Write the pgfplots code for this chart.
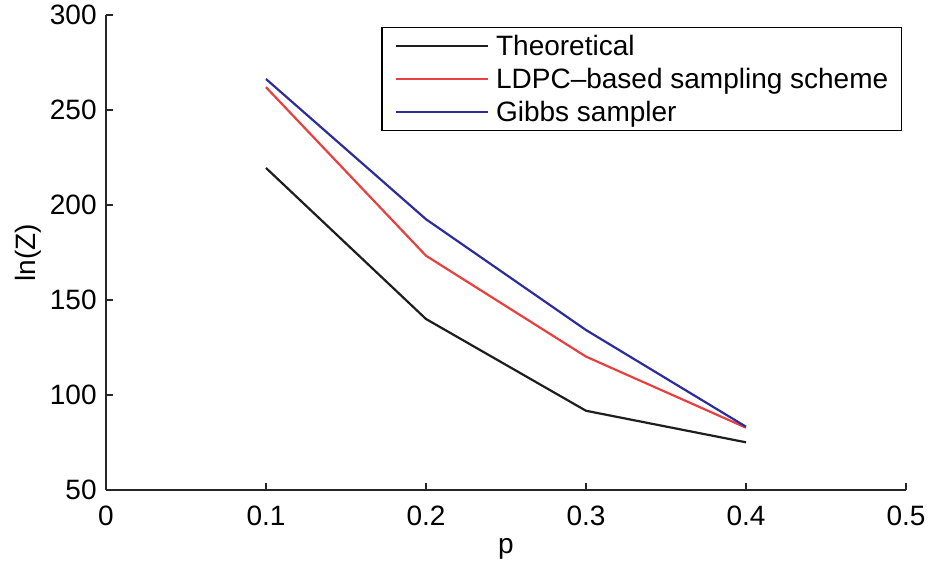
\documentclass[border=0pt]{standalone}
\usepackage{pgfplots}
\pgfplotsset{compat=1.18}
\usepackage{fontspec}
\setmainfont{Liberation Sans}
\definecolor{cred}{RGB}{232,64,64}
\definecolor{cblue}{RGB}{44,44,156}
\definecolor{cblack}{RGB}{30,30,30}
\begin{document}
\begin{tikzpicture}
\begin{axis}[
  name=ax,
  scale only axis,
  width=400pt, height=237.5pt,
  xmin=0, xmax=0.5, ymin=50, ymax=300,
  axis lines*=left,
  axis line style={line width=0.8pt, draw=black!85},
  xtick={0,0.1,0.2,0.3,0.4,0.5},
  ytick={50,100,150,200,250,300},
  xticklabels={0,0.1,0.2,0.3,0.4,0.5},
  tick align=inside,
  major tick length=3.5pt,
  tick style={line width=0.8pt, black!85},
  tick label style={font=\fontsize{14}{16}\selectfont, inner sep=0pt},
  yticklabel style={anchor=east, xshift=-4.5pt},
  xticklabel style={anchor=north, yshift=-8pt},
  /pgf/number format/assume math mode=true,
  xlabel={p}, ylabel={ln(Z)},
  label style={font=\fontsize{14}{16}\selectfont},
  xlabel style={at={(axis description cs:0.5,-0.1335)}, anchor=base, inner sep=0pt},
  ylabel style={at={(axis description cs:-0.0975,0.5)}, anchor=center, inner sep=0pt},
  legend cell align=left,
  legend image code/.code={\draw[#1] (0pt,0pt) -- (46pt,0pt);},
  legend style={at={(0.995,0.975)}, anchor=north east, draw=black, line width=0.7pt,
    font=\fontsize{14}{16}\selectfont, inner xsep=6.5pt, inner ysep=1pt,
    /tikz/column sep=3.5pt,
    nodes={inner sep=0pt, text height=13pt, text depth=3.5pt}},
]
\addplot[cblack, line width=1.1pt] coordinates {(0.1,219.5) (0.2,140) (0.3,91.7) (0.4,75.1)};
\addlegendentry{Theoretical}
\addplot[cred, line width=1.1pt] coordinates {(0.1,262) (0.2,173.3) (0.3,120.2) (0.4,82.8)};
\addlegendentry{LDPC–based sampling scheme}
\addplot[cblue, line width=1.1pt] coordinates {(0.1,266.3) (0.2,192.5) (0.3,134.2) (0.4,83.3)};
\addlegendentry{Gibbs sampler}
\end{axis}
\pgfresetboundingbox
\path (ax.south west) ++(-53pt,-35.5pt) rectangle ++(464.5pt,280.5pt);
\end{tikzpicture}
\end{document}
